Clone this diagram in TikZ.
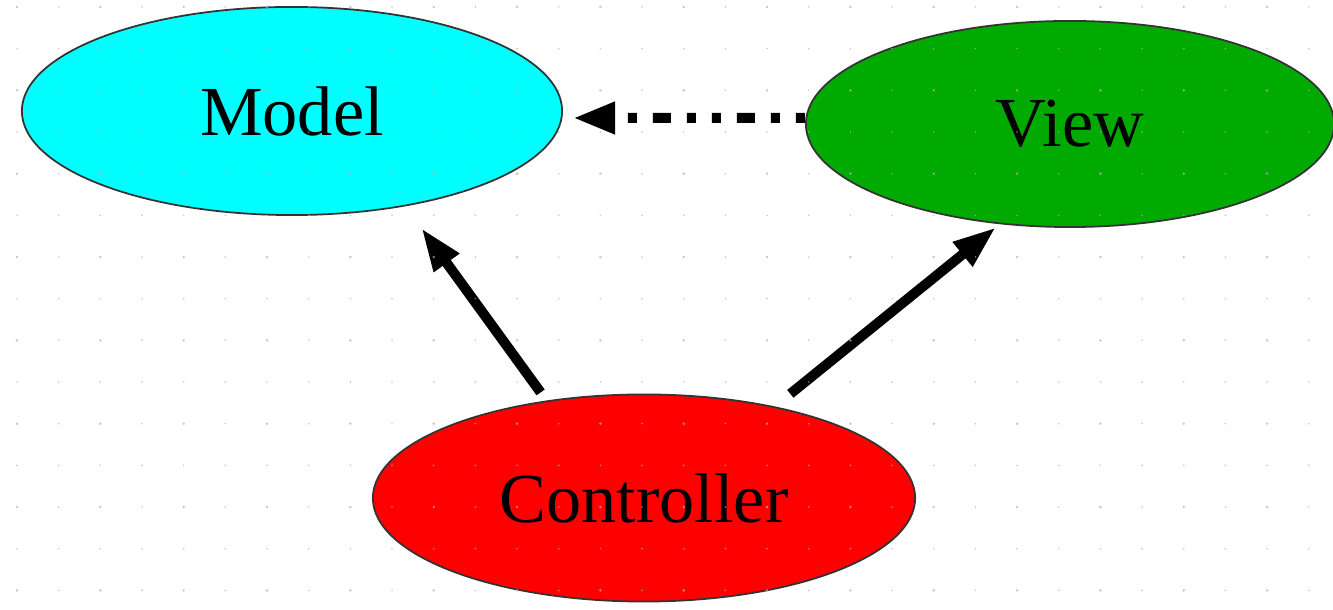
\documentclass[tikz,border=0pt]{standalone}
\usepackage{fontspec}
\setmainfont{Liberation Serif}
\usetikzlibrary{arrows.meta,shapes.geometric}
\definecolor{modelcyan}{RGB}{0,255,255}
\definecolor{viewgreen}{RGB}{0,170,0}
\tikzset{
  part/.style={ellipse, draw=black!80, line width=0.5pt, inner sep=0pt,
    font=\fontsize{20}{24}\selectfont},
  link/.style={line width=0.1cm, -{Triangle[length=0.43cm,width=0.29cm]}},
  griddot/.style={fill=black!30, opacity=0.7}
}
\begin{document}
\begin{tikzpicture}[x=0.01cm,y=-0.01cm]
    \useasboundingbox (0,0) rectangle (1333,610);

    \node[part, fill=modelcyan, minimum width=5.4cm, minimum height=2.08cm] (model) at (292,111) {Model};
    \node[part, fill=viewgreen, minimum width=5.28cm, minimum height=2.06cm] (view) at (1070,124) {\raisebox{-0.04cm}{View}};
    \node[part, fill=red, minimum width=5.42cm, minimum height=2.07cm] (ctrl) at (644,498) {Controller};

    \draw[link, dash pattern=on 0.09cm off 0.16cm on 0.09cm off 0.16cm on 0.18cm off 0.16cm,
      -{Triangle[length=0.42cm,width=0.3cm]}, shorten >=0.1cm]
      ([yshift=0.06cm]view.west) -- ([yshift=-0.07cm]model.east);
    \draw[link, shorten <=0.1cm, shorten >=0.27cm] (ctrl.135) -- (model.-40);
    \draw[link, shorten <=0.2cm, shorten >=0.05cm] (ctrl.35) -- (view.-125);

    \foreach \i in {0,...,31}
        \foreach \j in {0,...,14} {
            \pgfmathsetmacro{\r}{ifthenelse(mod(\i,2)==0 && mod(\j,2)==0, 1.4, 0.9)}
            \fill[griddot] (17+41.67*\i,7+41.67*\j) circle[radius=\r];
        }
\end{tikzpicture}
\end{document}
